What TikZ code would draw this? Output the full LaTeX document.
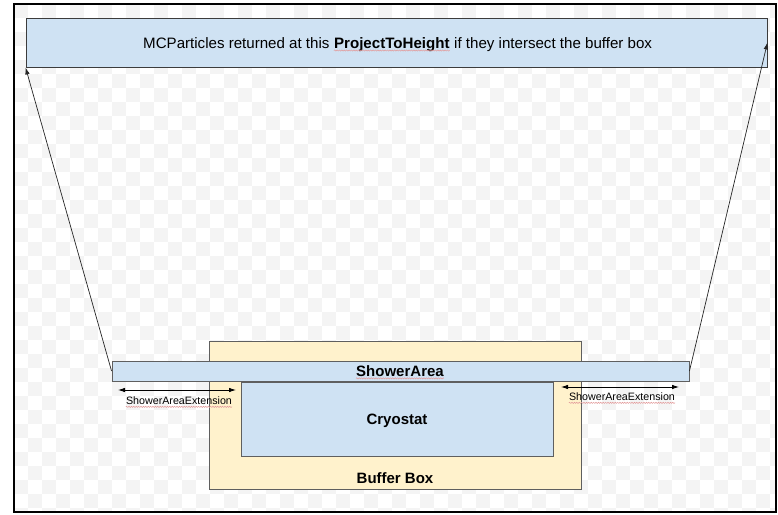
\documentclass[tikz,border=0pt]{standalone}
\usepackage{fontspec}
\setmainfont{Liberation Sans}
\usetikzlibrary{arrows.meta,decorations.pathmorphing}
\definecolor{boxblue}{HTML}{CFE2F3}
\definecolor{boxyellow}{HTML}{FFF2CC}
\definecolor{edgegray}{HTML}{5F5F5F}
\definecolor{darkedge}{HTML}{3C3C3C}
\definecolor{checkgray}{HTML}{F4F4F4}
\definecolor{squig}{HTML}{E39A9A}
\begin{document}
\begin{tikzpicture}[x=1pt,y=-1pt,
  boxstyle/.style={draw=edgegray, line width=0.9pt, inner sep=0pt, anchor=center},
  bluebox/.style={boxstyle, fill=boxblue},
  yellowbox/.style={boxstyle, fill=boxyellow},
  lbl/.style={font=\fontsize{15}{18}\selectfont\bfseries, inner sep=0pt},
  toptext/.style={font=\fontsize{15.1}{18}\selectfont, inner sep=0pt, anchor=base west},
  extlbl/.style={font=\fontsize{10.7}{13}\selectfont, inner sep=0pt},
  conn/.style={draw=black!85, line width=0.7pt, -{Latex[length=7pt,width=4.5pt]}},
  ext/.style={draw=black, line width=0.8pt, {Latex[length=7pt,width=4.5pt]}-{Latex[length=7pt,width=4.5pt]}},
  squiggle/.style={draw=squig, line width=0.5pt, decorate, decoration={snake, amplitude=0.6pt, segment length=2.4pt}}
]
\useasboundingbox (0,0) rectangle (778,514);
\fill[white] (0,0) rectangle (778,514);
% transparency checkerboard
\begin{scope}
\clip (14,4) rectangle (776,512);
\foreach \i in {0,2,...,54} {
  \foreach \j in {0,2,...,36} {
    \fill[checkgray] (14+\i*14,4+\j*14) rectangle ++(14,14);
    \fill[checkgray] (28+\i*14,18+\j*14) rectangle ++(14,14);
  }
}
\end{scope}
% frame
\draw[line width=1.6pt, black] (14,4) rectangle (776,512);
% top box
\node[bluebox, draw=darkedge, minimum width=741pt, minimum height=49pt] (top) at (396.5,42.5) {};
\node[toptext] (t1) at (143,48) {MCParticles returned at this\ \hbox{}};
\node[toptext] (t2) at (t1.base east) {\bfseries ProjectToHeight};
\node[toptext] (t3) at (t2.base east) {\hbox{}\ if they intersect the buffer box};
\draw[squiggle] ([yshift=-2.5pt]t2.base west) -- ([yshift=-2.5pt]t2.base east);
% buffer box
\node[yellowbox, minimum width=372pt, minimum height=148pt] (buffer) at (395,415) {};
\node[lbl] (bufferlabel) at (395,478) {Buffer Box};
% shower area
\node[bluebox, minimum width=577pt, minimum height=20pt] (shower) at (400.5,371) {};
\node[lbl] (showerlabel) at (400,371) {ShowerArea};
\draw[squiggle] ([yshift=-2pt]showerlabel.base west) -- ([yshift=-2pt]showerlabel.base east);
% cryostat
\node[bluebox, minimum width=312pt, minimum height=74pt] (cryo) at (397,419) {};
\node[lbl] (cryolabel) at (397,420.5) {Cryostat};
% connectors
\draw[conn] (shower.west) -- (top.south west);
\draw[conn] (shower.east) -- (top.east);
% extensions
\coordinate (le1) at (118,390);
\coordinate (le2) at (236,390);
\draw[ext] (le1) -- (le2);
\node[extlbl] (lelabel) at (179,401) {ShowerAreaExtension};
\draw[squiggle] ([yshift=-2pt]lelabel.base west) -- ([yshift=-2pt]lelabel.base east);
\coordinate (re1) at (561,387);
\coordinate (re2) at (679,387);
\draw[ext] (re1) -- (re2);
\node[extlbl] (relabel) at (622,397) {ShowerAreaExtension};
\draw[squiggle] ([yshift=-2pt]relabel.base west) -- ([yshift=-2pt]relabel.base east);
\end{tikzpicture}
\end{document}
